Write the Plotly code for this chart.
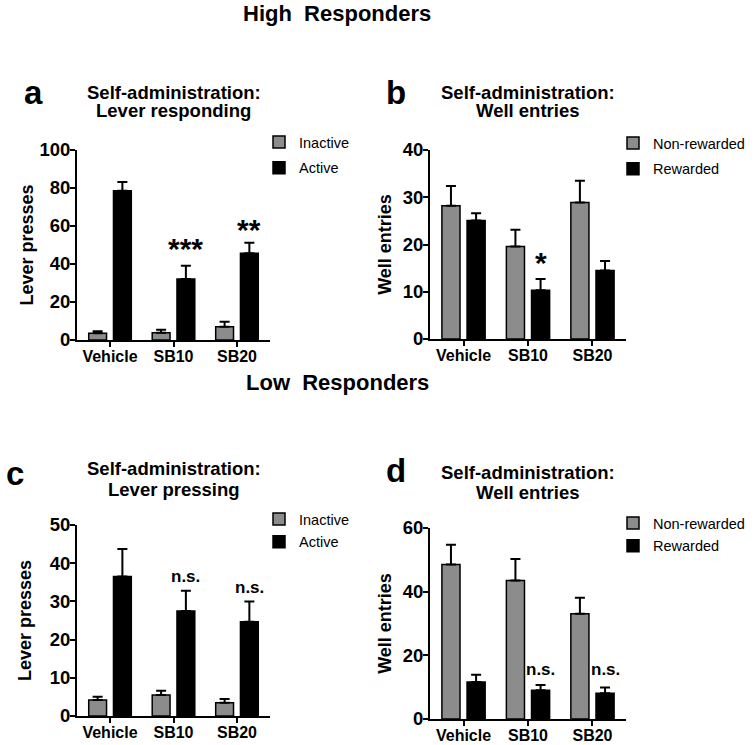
import plotly.graph_objects as go

W, H = 756, 745

# ---------------- data ----------------
categories = ["Vehicle", "SB10", "SB20"]

# Panel a: High responders, lever responding
a_inactive = [3.5, 3.8, 7.0]
a_inactive_err = [1.1, 1.6, 2.6]
a_active = [78.6, 32.1, 45.6]
a_active_err = [4.6, 7.0, 5.6]
a_sig = ["", "***", "**"]
a_sig_y = [None, 48.2, 57.9]

# Panel b: High responders, well entries
b_nonrew = [28.2, 19.6, 28.9]
b_nonrew_err = [4.2, 3.5, 4.6]
b_rew = [25.1, 10.3, 14.5]
b_rew_err = [1.5, 2.4, 2.0]
b_sig = ["", "*", ""]
b_sig_y = [None, 16.2, None]

# Panel c: Low responders, lever pressing
c_inactive = [4.2, 5.5, 3.5]
c_inactive_err = [0.85, 1.1, 0.95]
c_active = [36.5, 27.5, 24.7]
c_active_err = [7.2, 5.3, 5.3]
c_sig = ["", "n.s.", "n.s."]
c_sig_y = [None, 36.5, 33.6]

# Panel d: Low responders, well entries
d_nonrew = [48.5, 43.5, 33.1]
d_nonrew_err = [6.2, 6.8, 5.0]
d_rew = [11.6, 9.0, 8.1]
d_rew_err = [2.3, 1.7, 1.8]
d_sig = ["", "n.s.", "n.s."]
d_sig_y = [None, 15.4, 15.4]

GREY = "#8c8c8c"
FONT = "Liberation Sans, Arial, sans-serif"

BARGAP = 0.22
OFFSET = (1 - BARGAP) / 4.0

def px_x(p):
    return p / W

def px_y(p):
    return 1 - p / H

panels = [
    dict(key="a", xd=(77, 270), yd=(150, 340), ymax=100, dtick=20,
         s1=a_inactive, e1=a_inactive_err, s2=a_active, e2=a_active_err,
         n1="Inactive", n2="Active", ytitle="Lever presses", standoff=1,
         sig=a_sig, sigy=a_sig_y, sigsize=30,
         t1="Self-administration:", t2="Lever responding",
         ty=(92, 111), letter_xy=(33, 93), legend_xy=(259, 126), lgap=4),
    dict(key="b", xd=(430, 626), yd=(150, 339), ymax=40, dtick=10,
         s1=b_nonrew, e1=b_nonrew_err, s2=b_rew, e2=b_rew_err,
         n1="Non-rewarded", n2="Rewarded", ytitle="Well entries", standoff=6,
         sig=b_sig, sigy=b_sig_y, sigsize=30,
         t1="Self-administration:", t2="Well entries",
         ty=(92, 111), letter_xy=(396, 93), legend_xy=(613, 127), lgap=4),
    dict(key="c", xd=(77, 270), yd=(525, 716), ymax=50, dtick=10,
         s1=c_inactive, e1=c_inactive_err, s2=c_active, e2=c_active_err,
         n1="Inactive", n2="Active", ytitle="Lever presses", standoff=13,
         sig=c_sig, sigy=c_sig_y, sigsize=17,
         t1="Self-administration:", t2="Lever pressing",
         ty=(468, 489), letter_xy=(15, 473), legend_xy=(259, 503), lgap=1),
    dict(key="d", xd=(430, 626), yd=(528, 719), ymax=60, dtick=20,
         s1=d_nonrew, e1=d_nonrew_err, s2=d_rew, e2=d_rew_err,
         n1="Non-rewarded", n2="Rewarded", ytitle="Well entries", standoff=6,
         sig=d_sig, sigy=d_sig_y, sigsize=17,
         t1="Self-administration:", t2="Well entries",
         ty=(472, 492), letter_xy=(396, 471), legend_xy=(613, 507), lgap=1),
]

fig = go.Figure()
annotations = []
layout = {}

for i, p in enumerate(panels):
    n = "" if i == 0 else str(i + 1)
    xa, ya = "x" + n, "y" + n
    legname = "legend" if i == 0 else "legend" + str(i + 1)
    xs = list(range(len(categories)))
    fig.add_trace(go.Bar(
        x=xs, y=p["s1"], name=p["n1"], xaxis=xa, yaxis=ya, legend=legname,
        legendgroup=p["key"] + "1",
        marker=dict(color=GREY, line=dict(color="black", width=1.5)),
        error_y=dict(type="data", array=p["e1"], arrayminus=[0] * 3, symmetric=False,
                     color="black", thickness=2, width=5),
    ))
    fig.add_trace(go.Bar(
        x=xs, y=p["s2"], name=p["n2"], xaxis=xa, yaxis=ya, legend=legname,
        legendgroup=p["key"] + "2",
        marker=dict(color="black", line=dict(color="black", width=1.5)),
        error_y=dict(type="data", array=p["e2"], arrayminus=[0] * 3, symmetric=False,
                     color="black", thickness=2, width=5),
    ))
    layout["xaxis" + n] = dict(
        domain=[px_x(p["xd"][0]), px_x(p["xd"][1])], anchor=ya,
        range=[-0.52, 2.52], tickvals=xs, ticktext=categories,
        showline=True, linecolor="black", linewidth=2, ticks="outside",
        ticklen=5, tickwidth=2, tickcolor="black", showgrid=False, zeroline=False,
        ticklabelstandoff=-4, automargin=False,
        tickfont=dict(family=FONT, size=16, color="black", weight="bold"),
        fixedrange=True,
    )
    layout["yaxis" + n] = dict(
        domain=[px_y(p["yd"][1]), px_y(p["yd"][0])], anchor=xa,
        range=[0, p["ymax"]], dtick=p["dtick"],
        showline=True, linecolor="black", linewidth=2, ticks="outside",
        ticklen=5, tickwidth=2, tickcolor="black", showgrid=False, zeroline=False,
        ticklabelstandoff=-4, automargin=False,
        tickfont=dict(family=FONT, size=18.5, color="black", weight="bold"),
        title=dict(text=p["ytitle"], standoff=p["standoff"],
                   font=dict(family=FONT, size=18, color="black", weight="bold")),
        fixedrange=True,
    )
    layout[legname] = dict(
        x=px_x(p["legend_xy"][0]), y=px_y(p["legend_xy"][1]),
        xanchor="left", yanchor="top", bgcolor="rgba(0,0,0,0)",
        font=dict(family=FONT, size=14.5, color="black"),
        traceorder="grouped", tracegroupgap=p["lgap"],
        itemclick=False, itemdoubleclick=False,
    )
    # significance labels
    for j, s in enumerate(p["sig"]):
        if s:
            annotations.append(dict(
                x=j + OFFSET, y=p["sigy"][j], xref=xa, yref=ya, text=s,
                showarrow=False, xanchor="center", yanchor="middle",
                font=dict(family=FONT, size=p["sigsize"], color="black", weight="bold"),
            ))
    # panel titles
    cx = (p["xd"][0] + p["xd"][1]) / 2.0
    for txt, ty in zip((p["t1"], p["t2"]), p["ty"]):
        annotations.append(dict(
            x=px_x(cx), y=px_y(ty), xref="paper", yref="paper", text=txt,
            showarrow=False, xanchor="center", yanchor="middle",
            font=dict(family=FONT, size=18.5, color="black", weight="bold"),
        ))
    annotations.append(dict(
        x=px_x(p["letter_xy"][0]), y=px_y(p["letter_xy"][1]), xref="paper", yref="paper",
        text=p["key"], showarrow=False, xanchor="center", yanchor="middle",
        font=dict(family=FONT, size=33, color="black", weight="bold"),
    ))

for txt, ty in (("High\u00a0 Responders", 13), ("Low\u00a0 Responders", 382)):
    annotations.append(dict(
        x=px_x(337), y=px_y(ty), xref="paper", yref="paper", text=txt,
        showarrow=False, xanchor="center", yanchor="middle",
        font=dict(family=FONT, size=22, color="black", weight="bold"),
    ))

fig.update_layout(
    width=W, height=H, autosize=False,
    margin=dict(l=0, r=0, t=0, b=0, pad=0),
    paper_bgcolor="white", plot_bgcolor="white",
    barmode="group", bargap=BARGAP, bargroupgap=0.28,
    annotations=annotations, **layout,
)

fig.write_html("out.html", config={"displayModeBar": False},
               post_script="document.body.style.margin='0px';")
